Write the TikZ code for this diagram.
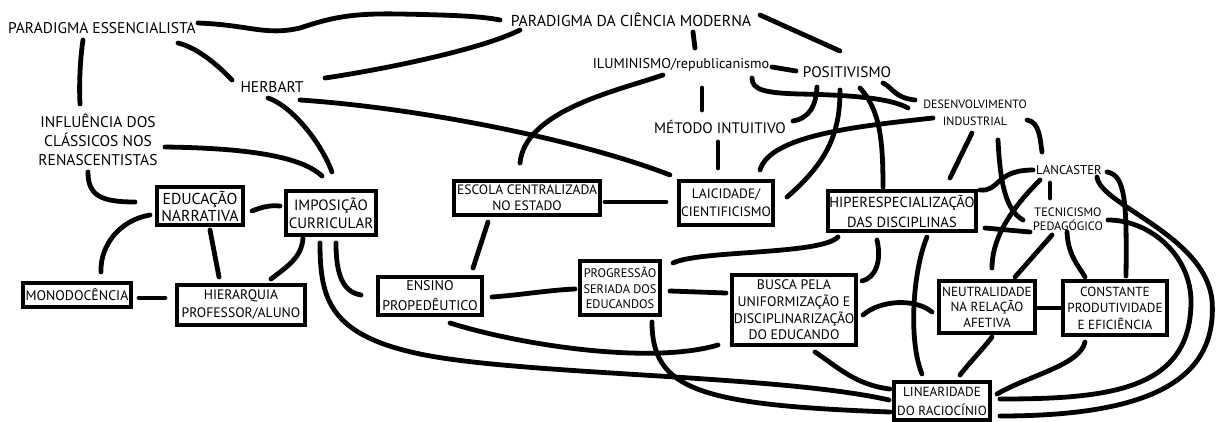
\documentclass[tikz,border=0pt]{standalone}
\usepackage{fontspec}
\setmainfont{PT Sans}
\usetikzlibrary{calc}
\newcommand{\myfs}[2]{\fontsize{#1}{#2}\selectfont}
\tikzset{
  ln/.style={line width=4.8pt, line cap=round},
  lab/.style={align=center, inner sep=0pt},
  bx/.style={draw, line width=3.6pt, align=center, inner sep=1pt},
}
\begin{document}
\begin{tikzpicture}[x=1pt,y=-1pt]
\useasboundingbox (0,0) rectangle (1216,421);
% plain labels
\node[lab, font=\myfs{15.5}{19}] (pe) at (102,28) {PARADIGMA ESSENCIALISTA};
\node[lab, font=\myfs{15.8}{19}] (pcm) at (631,20) {PARADIGMA DA CIÊNCIA MODERNA};
\node[lab, font=\myfs{15.5}{19}] (her) at (272,87) {HERBART};
\node[lab, font=\myfs{14.2}{19}] (ilu) at (681,65) {ILUMINISMO/republicanismo};
\node[lab, font=\myfs{15.3}{19}] (pos) at (847,72) {POSITIVISMO};
\node[lab, font=\myfs{15.5}{19}] (inf) at (98,140) {INFLUÊNCIA DOS\\CLÁSSICOS NOS\\RENASCENTISTAS};
\node[lab, font=\myfs{15.2}{19}] (met) at (720,127) {MÉTODO INTUITIVO};
\node[lab, font=\myfs{12}{17}] (des) at (975,113) {DESENVOLVIMENTO\\INDUSTRIAL};
\node[lab, font=\myfs{12.8}{15}] (lan) at (1069,170) {LANCASTER};
\node[lab, font=\myfs{12.2}{13.5}] (tec) at (1068,219) {TECNICISMO\\PEDAGÓGICO};
% boxes
\node[bx, minimum width=86.5pt, minimum height=38.5pt, font=\myfs{15.8}{17}] (edu) at (200,206) {EDUCAÇÃO\\NARRATIVA};
\node[bx, minimum width=89.5pt, minimum height=43.5pt, font=\myfs{15}{18}] (imp) at (331,213) {IMPOSIÇÃO\\CURRICULAR};
\node[bx, minimum width=145.5pt, minimum height=34.5pt, font=\myfs{13.6}{16}] (esc) at (527,198) {ESCOLA CENTRALIZADA\\NO ESTADO};
\node[bx, minimum width=93.5pt, minimum height=43.5pt, font=\myfs{13.6}{18}] (lai) at (726,203) {LAICIDADE/\\CIENTIFICISMO};
\node[bx, minimum width=148.5pt, minimum height=40.5pt, font=\myfs{14.6}{20}] (hip) at (902,211) {HIPERESPECIALIZAÇÃO\\DAS DISCIPLINAS};
\node[bx, minimum width=108.5pt, minimum height=23.5pt, font=\myfs{13.9}{16}] (mono) at (77,295) {MONODOCÊNCIA};
\node[bx, minimum width=128.5pt, minimum height=39.5pt, font=\myfs{13.7}{18}] (hier) at (241,305) {HIERARQUIA\\PROFESSOR/ALUNO};
\node[bx, minimum width=103.5pt, minimum height=37.5pt, font=\myfs{14}{20}] (ens) at (430,296) {ENSINO\\PROPEDÊUTICO};
\node[bx, minimum width=79.5pt, minimum height=54.5pt, font=\myfs{12.4}{15.5}] (prog) at (620,288) {PROGRESSÃO\\SERIADA DOS\\EDUCANDOS};
\node[bx, minimum width=124.5pt, minimum height=70.5pt, font=\myfs{13.8}{16.7}] (bus) at (794,310) {BUSCA PELA\\UNIFORMIZAÇÃO E\\DISCIPLINARIZAÇÃO\\DO EDUCANDO};
\node[bx, minimum width=95.5pt, minimum height=51.5pt, font=\myfs{13.2}{15.5}] (neu) at (987,307) {NEUTRALIDADE\\NA RELAÇÃO\\AFETIVA};
\node[bx, minimum width=103.5pt, minimum height=54.5pt, font=\myfs{13.2}{16.5}] (cpe) at (1115,308) {CONSTANTE\\PRODUTIVIDADE\\E EFICIÊNCIA};
\node[bx, minimum width=95.5pt, minimum height=37.5pt, font=\myfs{13.2}{19}] (lin) at (942,401) {LINEARIDADE\\DO RACIOCÍNIO};
% connectors
\draw[ln] ($(pe)+(96,-5)$) .. controls (250,25) and (265,36) .. (300,28) .. controls (330,18) and (350,13) .. (400,14) .. controls (450,15) and (480,16) .. ($(pcm)+(-131,0)$);
\draw[ln] ($(pe)+(76,15)$) .. controls (195,47) and (215,62) .. ($(her)+(-40,-7)$);
\draw[ln] ($(pe)+(-19,12)$) .. controls (80,60) and (79,85) .. ($(inf)+(-18,-36)$);
\draw[ln] ($(her)+(53,-9)$) .. controls (380,70) and (480,50) .. ($(pcm)+(-111,10)$);
\draw[ln] ($(her)+(28,13)$) .. controls (420,108) and (580,140) .. ($(lai)+(-56,-28)$);
\draw[ln] ($(her)+(-4,11)$) .. controls (290,105) and (320,140) .. ($(imp)+(1,-41)$);
\draw[ln] ($(inf)+(67,7)$) .. controls (240,148) and (300,155) .. ($(imp)+(-9,-37)$);
\draw[ln] ($(inf)+(-10,32)$) .. controls (88,195) and (100,202) .. ($(edu)+(-65,-4)$);
\draw[ln] ($(edu)+(52,5)$) .. controls (262,207) and (270,205) .. ($(imp)+(-51,-7)$);
\draw[ln] ($(edu)+(-50,9)$) .. controls (120,220) and (100,245) .. ($(mono)+(24,-23)$);
\draw[ln] ($(edu)+(10,24)$) -- ($(hier)+(-22,-28)$);
\draw[ln] ($(imp)+(-28,25)$) .. controls (302,258) and (285,268) .. ($(hier)+(30,-26)$);
\draw[ln] ($(mono)+(62,3)$) -- ($(hier)+(-76,-7)$);
\draw[ln] ($(imp)+(5,30)$) .. controls (336,275) and (343,292) .. ($(ens)+(-69,-1)$);
\draw[ln] ($(imp)+(-11,30)$) .. controls (320,300) and (330,335) .. (420,354) .. controls (520,375) and (780,375) .. ($(lin)+(-53,-1)$);
\draw[ln] ($(ens)+(20,27)$) .. controls (520,345) and (650,365) .. ($(bus)+(-76,35)$);
\draw[ln] ($(ens)+(62,1)$) .. controls (520,295) and (550,290) .. ($(prog)+(-45,1)$);
\draw[ln] ($(esc)+(-39,24)$) -- ($(ens)+(43,-28)$);
\draw[ln] ($(esc)+(78,4)$) -- ($(lai)+(-60,-1)$);
\draw[ln] ($(ilu)+(-18,10)$) .. controls (620,90) and (525,110) .. ($(esc)+(-7,-35)$);
\draw[ln] ($(pcm)+(62,12)$) -- ($(ilu)+(14,-17)$);
\draw[ln] ($(ilu)+(21,23)$) -- ($(met)+(-18,-17)$);
\draw[ln] ($(met)+(-2,15)$) -- ($(lai)+(-8,-35)$);
\draw[ln] ($(ilu)+(91,2)$) -- ($(pos)+(-51,-1)$);
\draw[ln] ($(pcm)+(129,-5)$) -- ($(pos)+(-7,-21)$);
\draw[ln] ($(ilu)+(71,13)$) .. controls (752,90) and (765,93) .. (800,94) .. controls (850,95) and (890,98) .. ($(des)+(-67,-5)$);
\draw[ln] ($(pos)+(36,11)$) .. controls (893,88) and (895,98) .. ($(des)+(-60,-13)$);
\draw[ln] ($(pos)+(-30,15)$) .. controls (816,105) and (810,118) .. ($(met)+(73,-6)$);
\draw[ln] ($(pos)+(-7,18)$) .. controls (840,130) and (830,160) .. ($(lai)+(61,-6)$);
\draw[ln] ($(pos)+(13,16)$) .. controls (880,110) and (883,140) .. ($(hip)+(-19,-24)$);
\draw[ln] ($(des)+(-42,5)$) .. controls (860,126) and (770,135) .. ($(lai)+(34,-33)$);
\draw[ln] ($(des)+(-3,20)$) -- ($(hip)+(48,-33)$);
\draw[ln] ($(des)+(23,27)$) .. controls (1000,180) and (1005,210) .. ($(tec)+(-45,1)$);
\draw[ln] ($(des)+(52,7)$) .. controls (1040,122) and (1040,140) .. ($(lan)+(-27,-18)$);
\draw[ln] ($(hip)+(78,-21)$) .. controls (1000,192) and (995,170) .. ($(lan)+(-36,0)$);
\draw[ln] ($(hip)+(83,17)$) -- ($(tec)+(-38,13)$);
\draw[ln] ($(lan)+(-19,13)$) -- ($(tec)+(-18,-21)$);
\draw[ln] ($(lan)+(-29,10)$) .. controls (1015,205) and (992,235) .. ($(neu)+(5,-39)$);
\draw[ln] ($(tec)+(-16,16)$) -- ($(neu)+(28,-30)$);
\draw[ln] ($(tec)+(-1,13)$) .. controls (1068,255) and (1078,265) .. ($(cpe)+(-30,-31)$);
\draw[ln] ($(lan)+(38,2)$) .. controls (1125,175) and (1127,200) .. ($(cpe)+(11,-32)$);
\draw[ln] ($(lan)+(28,7)$) .. controls (1100,205) and (1205,235) .. (1212,300) .. controls (1218,380) and (1150,416) .. ($(lin)+(58,15)$);
\draw[ln] ($(tec)+(40,1)$) .. controls (1150,220) and (1190,255) .. (1191,300) .. controls (1192,390) and (1110,399) .. ($(lin)+(58,-2)$);
\draw[ln] ($(cpe)+(-30,34)$) .. controls (1080,365) and (1030,375) .. ($(lin)+(55,-7)$);
\draw[ln] ($(neu)+(50,1)$) -- ($(cpe)+(-55,0)$);
\draw[ln] ($(neu)+(5,30)$) .. controls (982,350) and (970,362) .. ($(lin)+(18,-26)$);
\draw[ln] ($(hip)+(25,26)$) .. controls (913,270) and (908,340) .. ($(lin)+(-20,-27)$);
\draw[ln] ($(hip)+(-25,29)$) .. controls (882,262) and (875,278) .. ($(bus)+(68,-29)$);
\draw[ln] ($(hip)+(-64,26)$) .. controls (820,255) and (700,250) .. ($(prog)+(53,-25)$);
\draw[ln] ($(bus)+(69,5)$) .. controls (880,300) and (915,298) .. ($(neu)+(-55,5)$);
\draw[ln] ($(bus)+(21,42)$) .. controls (835,365) and (855,385) .. ($(lin)+(-52,-12)$);
\draw[ln] ($(prog)+(50,3)$) -- ($(bus)+(-68,-17)$);
\draw[ln] ($(prog)+(32,34)$) .. controls (652,390) and (700,405) .. ($(lin)+(-52,11)$);
\end{tikzpicture}
\end{document}
